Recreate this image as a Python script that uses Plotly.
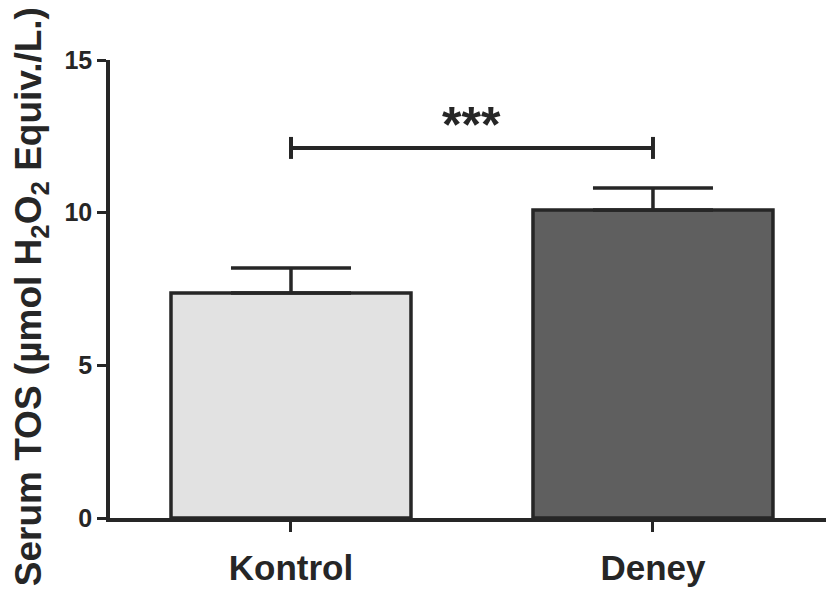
import plotly.graph_objects as go

categories = ["Kontrol", "Deney"]
means = [7.37, 10.09]
sem = [0.82, 0.72]
bar_colors = ["#e2e2e2", "#5f5f5f"]
y_ticks = [0, 5, 10, 15]
bracket_pair = [0, 1]
bracket_y = 12.12
sig_label = "***"

ink = "#262626"
fontfam = "Arial, Liberation Sans, sans-serif"

fig = go.Figure()
fig.add_trace(go.Bar(
    x=categories, y=means,
    width=0.663,
    marker=dict(color=bar_colors, line=dict(color=ink, width=3.5)),
    error_y=dict(type="data", array=sem, arrayminus=[0, 0], symmetric=False,
                 color=ink, thickness=3.5, width=60),
    showlegend=False,
    hoverinfo="skip",
))

# significance bracket
fig.add_shape(type="line", x0=bracket_pair[0], x1=bracket_pair[1], y0=bracket_y, y1=bracket_y,
              xref="x", yref="y", line=dict(color=ink, width=4))
for xb in bracket_pair:
    fig.add_shape(type="line", x0=xb, x1=xb, y0=bracket_y - 0.36, y1=bracket_y + 0.36,
                  xref="x", yref="y", line=dict(color=ink, width=4))
fig.add_annotation(x=sum(bracket_pair) / 2, y=bracket_y, yshift=-7, xref="x", yref="y",
                   text=sig_label, showarrow=False, yanchor="bottom",
                   font=dict(family=fontfam, size=50, color=ink, weight="bold"))

# y-axis title
fig.add_annotation(xref="paper", yref="paper", x=-0.11, y=0.4825,
                   text="Serum TOS (µmol H<sub>2</sub>O<sub>2</sub> Equiv./L.)",
                   textangle=-90, showarrow=False, xanchor="center", yanchor="middle",
                   font=dict(family=fontfam, size=37, color=ink, weight="bold"))

fig.update_layout(
    width=826, height=597,
    margin=dict(l=110, r=0, t=60, b=79),
    paper_bgcolor="white", plot_bgcolor="white",
    xaxis=dict(range=[-0.5, 1.478], showline=True, linecolor=ink, linewidth=3.5,
               ticks="outside", ticklen=10, tickwidth=3, tickcolor=ink,
               tickfont=dict(family=fontfam, size=35, color=ink, weight="bold"),
               ticklabelstandoff=6, showgrid=False, zeroline=False),
    yaxis=dict(range=[0, 15], tickvals=y_ticks, showline=True, linecolor=ink, linewidth=3.5,
               ticks="outside", ticklen=9, tickwidth=3, tickcolor=ink,
               tickfont=dict(family=fontfam, size=25, color=ink, weight="bold"),
               showgrid=False, zeroline=False),
)

fig.write_html("out.html", config={"displayModeBar": False},
               post_script="document.body.style.margin='0';")
